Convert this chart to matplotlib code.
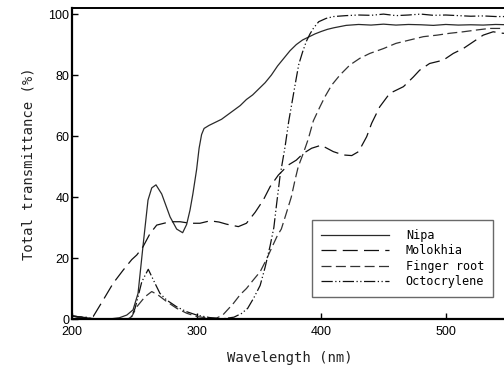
import matplotlib
matplotlib.use("Agg")
import matplotlib.pyplot as plt

# ---- data ----
nipa_wl = [200, 205, 212, 220, 230, 238, 244, 249, 253, 257, 261, 264, 267.4, 272, 278.7, 284, 288.8,
           292, 294.7, 297, 300, 302, 304, 306, 310, 315, 320, 325, 330, 335, 340, 345, 350, 355, 360,
           365, 370, 375, 380, 385, 390, 395, 400, 405, 410, 420, 430, 440, 450, 460, 470, 480, 490,
           500, 510, 520, 530, 540, 550, 560]
nipa_t = [1.0, 0.5, 0.0, 0.0, 0.0, 0.4, 1.3, 3.0, 8.4, 24.0, 39.0, 43.0, 44.0, 41.0, 33.5, 29.5, 28.3,
          31.0, 35.7, 41.0, 49.0, 56.0, 60.5, 62.5, 63.5, 64.5, 65.5, 67.0, 68.5, 70.0, 72.0, 73.5, 75.5,
          77.5, 80.0, 83.0, 85.5, 88.0, 90.0, 91.5, 92.5, 93.5, 94.3, 95.0, 95.5, 96.3, 96.6, 96.4, 96.7,
          96.4, 96.6, 96.5, 96.3, 96.6, 96.4, 96.5, 96.4, 96.6, 96.5, 96.5]

molokhia_wl = [200, 210, 217, 225, 233, 241, 248, 252, 257, 262.6, 268, 278.7, 286.7, 294.7, 302.7,
               310.8, 318, 324, 333.5, 340, 347, 353.5, 359, 365.6, 373.6, 380, 385.6, 392.3, 400,
               409.7, 417.7, 424.5, 430, 436.5, 440.5, 447, 455, 466, 474, 479, 487, 498, 506, 514,
               522, 530, 538, 546, 560]
molokhia_t = [1.0, 0.5, 0.8, 6.2, 11.7, 16.0, 19.5, 21.0, 23.7, 28.0, 30.8, 31.9, 31.9, 31.4, 31.4,
              32.2, 31.8, 31.1, 30.3, 31.4, 35.0, 39.0, 43.4, 47.2, 50.5, 52.1, 54.3, 56.0, 57.0,
              54.9, 53.8, 53.6, 54.9, 59.8, 64.2, 69.6, 74.0, 76.2, 79.4, 81.6, 83.8, 84.9, 87.1,
              88.7, 90.9, 93.1, 94.2, 93.7, 94.0]

finger_wl = [200, 210, 220, 245, 248, 252, 258.6, 264, 269, 276, 284, 292, 300, 310, 316, 321, 329.5,
             335, 340, 345.5, 351, 356, 361, 365, 368, 372, 376, 379, 381.6, 385.6, 389.6, 393.7, 399,
             403, 408.4, 415, 423, 431, 439, 450, 460, 471, 482, 493, 503, 514, 525, 535, 546, 560]
finger_t = [1.0, 0.5, 0.0, 0.0, 0.8, 4.0, 7.3, 9.0, 7.9, 5.7, 3.5, 1.9, 0.8, 0.3, 0.3, 1.3, 5.1,
            8.0, 10.0, 12.8, 15.5, 19.5, 24.0, 27.5, 29.5, 34.7, 40.0, 45.6, 50.0, 54.3, 59.0, 65.0,
            69.6, 72.9, 76.7, 80.0, 83.3, 85.5, 87.1, 88.7, 90.4, 91.5, 92.6, 93.1, 93.7, 94.2, 94.8,
            95.3, 95.3, 95.5]

octo_wl = [200, 210, 220, 245, 248, 250.6, 253, 256, 261.2, 266.6, 270.6, 276, 284, 292, 300, 310,
           320, 330, 336, 341, 346, 351, 355, 359, 362, 364, 367, 371, 374, 377, 380, 382, 385, 388,
           391, 394, 398, 404, 410, 420, 430, 440, 450, 460, 470, 480, 490, 500, 510, 520, 530, 540,
           550, 560]
octo_t = [1.0, 0.5, 0.0, 0.0, 1.0, 3.5, 7.3, 12.2, 16.3, 11.7, 8.4, 6.2, 4.0, 2.4, 1.3, 0.5,
          0.0, 0.6, 1.8, 3.5, 7.0, 11.0, 17.0, 24.0, 30.0, 37.0, 47.0, 56.5, 65.0, 72.0, 79.0, 83.5,
          87.5, 91.0, 93.5, 95.5, 97.5, 98.6, 99.2, 99.5, 99.7, 99.6, 100.0, 99.5, 99.7, 100.0, 99.6,
          99.7, 99.5, 99.3, 99.4, 99.2, 99.2, 99.2]

series_labels = ["Nipa", "Molokhia", "Finger root", "Octocrylene"]
x_ticks = [200, 300, 400, 500]
y_ticks = [0, 20, 40, 60, 80, 100]

# ---- figure ----
fig = plt.figure(figsize=(5.04, 3.69), dpi=100)
ax = fig.add_axes([72 / 504, 50 / 369, 498.4 / 504, 311 / 369])

lw = 0.9
ax.plot(nipa_wl, nipa_t, color="#2a2a2a", lw=lw, linestyle="-", label=series_labels[0])
ax.plot(molokhia_wl, molokhia_t, color="#111111", lw=lw, linestyle=(0, (12, 5)), label=series_labels[1])
ax.plot(finger_wl, finger_t, color="#333333", lw=lw, linestyle=(0, (8, 3.5)), label=series_labels[2])
ax.plot(octo_wl, octo_t, color="#111111", lw=lw, linestyle=(0, (9, 2, 1, 2, 1, 2)), label=series_labels[3])

ax.set_xlim(200, 600)
ax.set_ylim(0, 102)
ax.set_xticks(x_ticks)
ax.set_yticks(y_ticks)

tick_font = dict(family=["Liberation Sans", "DejaVu Sans"], size=9)
ax.set_xticklabels([str(v) for v in x_ticks], fontdict=tick_font)
ax.set_yticklabels([str(v) for v in y_ticks], fontdict=tick_font)
ax.tick_params(axis="both", direction="in", length=4, width=1, colors="black")
ax.tick_params(axis="x", pad=5)
ax.tick_params(axis="y", pad=2)

for side in ["left", "bottom"]:
    ax.spines[side].set_linewidth(1.6)
ax.spines["top"].set_linewidth(1.4)
ax.spines["right"].set_linewidth(1.4)

label_font = dict(family=["DejaVu Sans Mono"], size=10, color="#222222")
ax.set_xlabel("Wavelength (nm)", fontdict=label_font)
ax.set_ylabel("Total transmittance (%)", fontdict=label_font)
ax.xaxis.label.set_va("center")
ax.yaxis.label.set_va("center")
ax.xaxis.set_label_coords(0.437, -0.125)
ax.yaxis.set_label_coords(-0.088, 0.50)

leg = ax.legend(loc="lower left", bbox_to_anchor=(0.4815, 0.0707), frameon=True, fancybox=False,
                prop=dict(family="DejaVu Sans Mono", size=8.5), handlelength=5.8,
                handletextpad=1.4, labelspacing=0.2, borderpad=0.75, borderaxespad=0.0)
leg.get_frame().set_edgecolor("#444444")
leg.get_frame().set_linewidth(1.0)

fig.savefig("out.png", dpi=100)
